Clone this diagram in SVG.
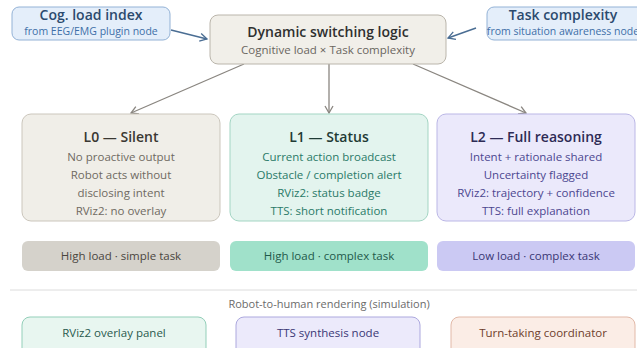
<svg xmlns="http://www.w3.org/2000/svg" width="637" height="348" viewBox="0 0 637 348">
<defs>
<style>
text{font-family:"Open Sans","Noto Sans","Liberation Sans",sans-serif;text-anchor:middle}
.t{font-weight:600;font-size:14px}
.s{font-size:11.5px}
.b{font-size:11.5px}
</style>
<marker id="ab" markerWidth="10" markerHeight="10" refX="8" refY="5" orient="auto" markerUnits="userSpaceOnUse"><path d="M1,1 L8,5 L1,9" fill="none" stroke="#4a6d93" stroke-width="1.3"/></marker>
<marker id="ag" markerWidth="10" markerHeight="10" refX="8" refY="5" orient="auto" markerUnits="userSpaceOnUse"><path d="M1,1 L8,5 L1,9" fill="none" stroke="#8a8680" stroke-width="1.3"/></marker>
</defs>
<rect width="637" height="348" fill="#ffffff"/>
<g id="connectors">
<line x1="171" y1="30" x2="207" y2="39" stroke="#4a6d93" stroke-width="1.4" marker-end="url(#ab)"/>
<line x1="476" y1="28" x2="448" y2="38" stroke="#4a6d93" stroke-width="1.4" marker-end="url(#ab)"/>
<line x1="244" y1="64" x2="131" y2="113" stroke="#8a8680" stroke-width="1.3" marker-end="url(#ag)"/>
<line x1="329" y1="64" x2="329" y2="113" stroke="#8a8680" stroke-width="1.3" marker-end="url(#ag)"/>
<line x1="413" y1="64" x2="526" y2="113" stroke="#8a8680" stroke-width="1.3" marker-end="url(#ag)"/>
</g>
<g id="cog">
<rect x="12" y="7" width="158" height="33" rx="7" fill="#e4eefa" stroke="#93b2d6"/>
<text x="91" y="20" class="t" fill="#2b4a6e">Cog. load index</text>
<text x="91" y="35" font-size="10.5" fill="#3e6fa8">from EEG/EMG plugin node</text>
</g>
<g id="task">
<rect x="487" y="7" width="158" height="33" rx="7" fill="#e4eefa" stroke="#93b2d6"/>
<text x="563" y="20" class="t" fill="#2b4a6e">Task complexity</text>
<text x="563" y="35" font-size="10.5" fill="#3e6fa8">from situation awareness node</text>
</g>
<g id="switch">
<rect x="210" y="15" width="236" height="49" rx="8" fill="#f1efe9" stroke="#bab5ab"/>
<text x="328" y="37" class="t" font-size="15" fill="#2f2f2f">Dynamic switching logic</text>
<text x="328" y="54" class="s" fill="#6a665f">Cognitive load × Task complexity</text>
</g>
<g id="l0">
<rect x="22" y="114" width="198" height="107" rx="9" fill="#f0eee8" stroke="#cbc6bc"/>
<text x="121" y="142" class="t" fill="#3a3732">L0 — Silent</text>
<text x="121" y="161" class="s" fill="#6f6a62">No proactive output</text>
<text x="121" y="179" class="s" fill="#6f6a62">Robot acts without</text>
<text x="121" y="197" class="s" fill="#6f6a62">disclosing intent</text>
<text x="121" y="215" class="s" fill="#6f6a62">RViz2: no overlay</text>
</g>
<g id="l1">
<rect x="230" y="114" width="198" height="107" rx="9" fill="#e3f4ee" stroke="#a3d5c3"/>
<text x="329" y="142" class="t" fill="#1f3b35">L1 — Status</text>
<text x="329" y="161" class="s" fill="#2a7a68">Current action broadcast</text>
<text x="329" y="179" class="s" fill="#2a7a68">Obstacle / completion alert</text>
<text x="329" y="197" class="s" fill="#2a7a68">RViz2: status badge</text>
<text x="329" y="215" class="s" fill="#2a7a68">TTS: short notification</text>
</g>
<g id="l2">
<rect x="437" y="114" width="198" height="107" rx="9" fill="#ebe9fb" stroke="#bbb7e6"/>
<text x="536" y="142" class="t" fill="#2e2b55">L2 — Full reasoning</text>
<text x="536" y="161" class="s" fill="#4b4790">Intent + rationale shared</text>
<text x="536" y="179" class="s" fill="#4b4790">Uncertainty flagged</text>
<text x="536" y="197" class="s" fill="#4b4790">RViz2: trajectory + confidence</text>
<text x="536" y="215" class="s" fill="#4b4790">TTS: full explanation</text>
</g>
<g id="badge0">
<rect x="22" y="241" width="198" height="30" rx="6" fill="#d5d2cb"/>
<text x="121" y="260" class="b" fill="#4a463f">High load · simple task</text>
</g>
<g id="badge1">
<rect x="230" y="241" width="198" height="30" rx="6" fill="#a0e1ca"/>
<text x="329" y="260" class="b" fill="#1f5a4a">High load · complex task</text>
</g>
<g id="badge2">
<rect x="437" y="241" width="198" height="30" rx="6" fill="#cbc9f3"/>
<text x="536" y="260" class="b" fill="#3a3775">Low load · complex task</text>
</g>
<line x1="10" y1="290" x2="637" y2="290" stroke="#dcdcdc" stroke-width="1"/>
<text x="329" y="308" font-size="11" fill="#6b6b6b">Robot-to-human rendering (simulation)</text>
<g id="rviz">
<rect x="22" y="317" width="184" height="40" rx="8" fill="#e8f6f0" stroke="#93cfb9"/>
<text x="114" y="337" class="b" fill="#2a5a4e">RViz2 overlay panel</text>
</g>
<g id="tts">
<rect x="236" y="317" width="184" height="40" rx="8" fill="#eceafb" stroke="#aca8de"/>
<text x="328" y="337" class="b" fill="#3a3775">TTS synthesis node</text>
</g>
<g id="turn">
<rect x="451" y="317" width="184" height="40" rx="8" fill="#fbede6" stroke="#e2b9a8"/>
<text x="543" y="337" class="b" fill="#6e3d2c">Turn-taking coordinator</text>
</g>
</svg>
